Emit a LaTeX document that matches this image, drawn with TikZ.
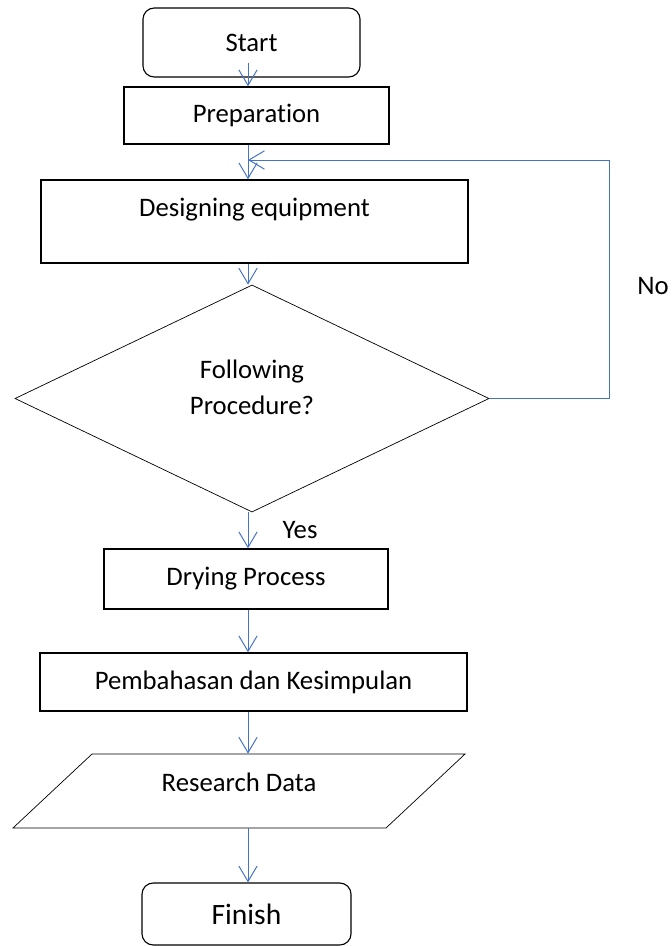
\documentclass[tikz,border=0pt]{standalone}
\usepackage{fontspec}
\setmainfont{Carlito}[Ligatures=NoCommon]
\usetikzlibrary{arrows.meta,shapes.geometric}
\definecolor{flowblue}{RGB}{68,114,196}
\tikzset{
termbox/.style={
  rectangle,
  rounded corners=8pt,
  line width=0.8pt,
  draw=black,
  }
}
\tikzset{
procbox/.style={
  rectangle,
  line width=1pt,
  draw=black,
  }
}
\tikzset{
decbox/.style={
  diamond,
  aspect=2,
  inner sep=0pt,
  line width=0.5pt,
  align=center,
  draw=black,
  }
}
\tikzset{
iobox/.style={
  trapezium,
  trapezium left angle=30.3,
  trapezium right angle=149.7,
  trapezium stretches body=true,
  line width=0.5pt,
  draw=black,
  }
}
\tikzset{
flowline/.style={
  line width=0.7pt,
  draw=flowblue,
  -{Straight Barb[length=11pt,width=13pt]}
  }
}

\begin{document}
\begin{tikzpicture}[x=0.025cm, y=-0.025cm, font=\fontsize{19}{26}\selectfont]
    \useasboundingbox (0,0) rectangle (671,946);

    % process part
    \node[termbox, minimum width=5.425cm, minimum height=1.725cm] (start) at (251.5,42.5) {Start};
    \node[procbox, minimum width=6.625cm, minimum height=1.425cm] (prep) at (256.5,115.5) {Preparation};
    \node[procbox, minimum width=10.675cm, minimum height=2.075cm, text depth=20pt] (design) at (254.5,221.5) {Designing equipment};
    \node[decbox, minimum width=11.85cm, minimum height=5.675cm, text depth=16pt] (decide) at (252,398.5) {Following\\Procedure?};
    \node[procbox, minimum width=7.1cm, minimum height=1.5cm] (dry) at (246,579) {Drying Process};
    \node[procbox, minimum width=10.675cm, minimum height=1.45cm] (discuss) at (253.5,682) {Pembahasan dan Kesimpulan};
    \node[iobox, minimum width=11.3cm, minimum height=1.85cm, text depth=13pt] (data) at (239,791) {Research Data};
    \node[termbox, minimum width=5.225cm, minimum height=1.55cm, font=\fontsize{21}{24}\selectfont] (finish) at (246.5,914) {Finish};

    % answer labels
    \node (nolabel) at (653,286) {No};
    \node (yeslabel) at (300,530) {Yes};

    % flow edges
    \coordinate (axis) at (248,0);
    \coordinate (back) at (248,160);
    \draw[flowline] ([yshift=0.375cm]start.south -| axis) -- (prep.north -| axis);
    \draw[flowline] (prep.south -| axis) -- (design.north -| axis);
    \draw[flowline] (design.south -| axis) -- (decide.north -| axis);
    \draw[flowline] (decide.south -| axis) -- (dry.north -| axis);
    \draw[flowline] (dry.south -| axis) -- (discuss.north -| axis);
    \draw[flowline] (discuss.south -| axis) -- (data.north -| axis);
    \draw[flowline] (data.south -| axis) -- (finish.north -| axis);

    % loop edge
    \draw[flowline] (decide.east) -- ++(120,0) |- (back);
\end{tikzpicture}
\end{document}
